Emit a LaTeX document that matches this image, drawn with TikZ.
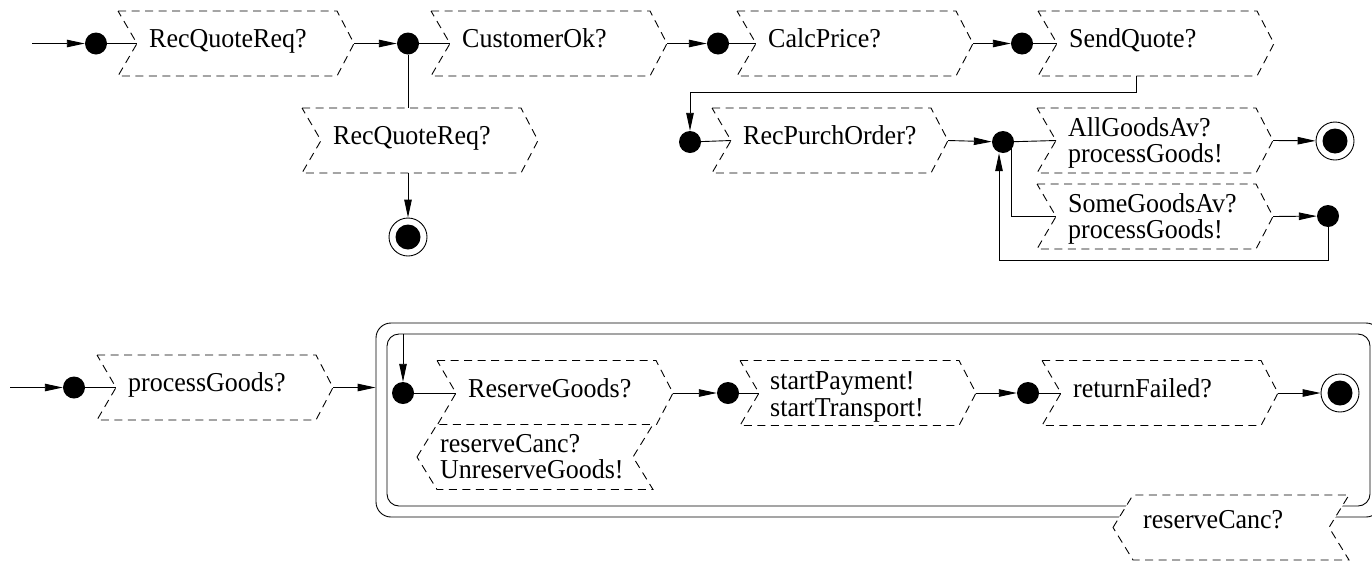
\documentclass[tikz,border=0pt]{standalone}
\usepackage{fontspec}
\usepackage{graphicx}
\setmainfont{Liberation Serif}
\usetikzlibrary{arrows.meta}

% labels are set a little taller than wide
\newcommand\tx[1]{\scalebox{1}[1.05]{#1}}

% forward transition box: notch on the left, point on the right
\newcommand\fwdbox[4]{% name, left x, centre y, text
  \draw[chev] (#2,#3-32.5) -- ++(219,0) -- ++(17,32.5) -- ++(-17,32.5)
    -- ++(-219,0) -- ++(19,-32.5) -- cycle;
  \coordinate (#1-in) at (#2+19,#3);
  \coordinate (#1-out) at (#2+236,#3);
  \node[lbl] (#1) at (#2+31,#3+4) {\tx{#4}};
}
\newcommand\fwdboxii[6]{% name, left x, centre y, line gap, first line, second line
  \draw[chev] (#2,#3-32.5) -- ++(219,0) -- ++(17,32.5) -- ++(-17,32.5)
    -- ++(-219,0) -- ++(19,-32.5) -- cycle;
  \coordinate (#1-in) at (#2+19,#3);
  \coordinate (#1-out) at (#2+236,#3);
  \node[lbl] (#1) at (#2+31,#3-4) {\tx{#5}};
  \node[lbl] (#1-b) at (#2+31,#3-4+#4) {\tx{#6}};
}
% backward transition box: point on the left, notch on the right
\newcommand\revshape[2]{% left x, centre y
  \draw[chev, fill=white] (#1,#2) -- ++(20,-32.5) -- ++(216,0) -- ++(-20,32.5)
    -- ++(20,32.5) -- ++(-216,0) -- cycle;
}

\begin{document}
\begin{tikzpicture}[x=1pt, y=-1pt,
  conn/.style={line width=0.9pt},
  arr/.style={conn, -{Triangle[length=18pt,width=7.5pt]}},
  chev/.style={line width=0.9pt, dash pattern=on 8pt off 5.5pt},
  lbl/.style={font=\fontsize{26}{26}\selectfont, inner sep=0pt, anchor=base west},
  dotst/.style={circle, fill, inner sep=0pt, minimum size=22pt},
  finst/.style={circle, draw, line width=0.9pt, fill=white, inner sep=0pt, minimum size=38pt,
    path picture={\fill[black] (path picture bounding box.center) circle (12.5pt);}},
  boxst/.style={draw, line width=0.9pt, inner sep=0pt, anchor=center},
]
\useasboundingbox (0,0) rectangle (1372,563);

% ---------- quote handling ----------
\coordinate (s1) at (32,43.5);
\node[dotst] (d1) at (96,43.5) {};
\fwdbox{rq}{118}{43.5}{RecQuoteReq?}
\node[dotst] (d2) at (408,43.5) {};
\fwdbox{co}{431}{43.5}{CustomerOk?}
\node[dotst] (d3) at (718,43.5) {};
\fwdbox{cp}{737}{43.5}{CalcPrice?}
\node[dotst] (d4) at (1022,43.5) {};
\fwdbox{sq}{1038}{43.5}{SendQuote?}

\draw[arr] (s1) -- (d1);
\draw[conn] (d1) -- (rq-in);
\draw[arr] (rq-out) -- (d2);
\draw[conn] (d2) -- (co-in);
\draw[arr] (co-out) -- (d3);
\draw[conn] (d3) -- (cp-in);
\draw[arr] (cp-out) -- (d4);
\draw[conn] (d4) -- (sq-in);

% rejected customer
\fwdbox{rr}{302}{140.5}{RecQuoteReq?}
\coordinate (rr-top) at (408,108);
\coordinate (rr-bot) at (408,173);
\node[finst] (f1) at (408,237) {};
\draw[conn] (d2) -- (rr-top);
\draw[arr] (rr-bot) -- (f1);

% ---------- purchase order ----------
\coordinate (sq-bot) at (1136,76);
\node[dotst] (d5) at (690,142) {};
\fwdbox{po}{712}{140.5}{RecPurchOrder?}
\node[dotst] (d6) at (1003,142) {};
\fwdboxii{ag}{1037}{140.5}{26}{AllGoodsAv?}{processGoods!}
\node[finst] (f2) at (1335,141) {};
\fwdboxii{sg}{1037}{216.5}{26}{SomeGoodsAv?}{processGoods!}
\node[dotst] (d7) at (1328,216) {};

\draw[arr] (sq-bot) -- ++(0,16) -| (d5);
\draw[conn] (d5) -- (po-in);
\draw[arr] (po-out) -- (d6);
\draw[conn] (d6) -- (ag-in);
\draw[arr] (ag-out) -- (f2);
\draw[conn] ([xshift=8pt]d6.center) |- (sg-in);
\draw[arr] (sg-out) -- (d7);
\draw[arr] (d7.south) -- ++(0,33) -| ([xshift=-4pt]d6.south);

% ---------- goods processing ----------
\coordinate (s3) at (10,387.5);
\node[dotst] (d8) at (74,387.5) {};
\fwdbox{pg}{97}{387.5}{processGoods?}
\draw[arr] (s3) -- (d8);
\draw[conn] (d8) -- (pg-in);

\node[boxst, rounded corners=15pt, minimum width=1005pt, minimum height=194pt] (outer) at (878.5,420) {};
\node[boxst, rounded corners=12pt, minimum width=983pt, minimum height=172pt] (inner) at (878.5,420) {};
\draw[arr] (pg-out) -- (pg-out -| outer.west);

\coordinate (ci) at (403,334);
\node[dotst] (d9) at (403,393) {};
\fwdbox{rg}{437}{393}{ReserveGoods?}
\node[dotst] (d10) at (728,393) {};
\draw[chev] (740,360.5) -- ++(219,0) -- ++(17,32.5) -- ++(-17,32.5) -- ++(-219,0) -- ++(19,-32.5) -- cycle;
\coordinate (sp-in) at (759,393);
\coordinate (sp-out) at (976,393);
\node[lbl] (sp) at (770,389) {\tx{startPayment!}};
\node[lbl] (sp-b) at (770,416) {\tx{startTransport!}};
\node[dotst] (d11) at (1028,393) {};
\fwdbox{rf}{1042}{393}{returnFailed?}
\node[finst] (f3) at (1340,393) {};

\draw[arr] (ci) -- (d9);
\draw[conn] (d9) -- (rg-in);
\draw[arr] (rg-out) -- (d10);
\draw[conn] (d10) -- (sp-in);
\draw[arr] (sp-out) -- (d11);
\draw[conn] (d11) -- (rf-in);
\draw[arr] (rf-out) -- (f3);

% cancellation inside the reservation
\revshape{417}{457}
\node[lbl] (uc) at (440,452) {\tx{reserveCanc?}};
\node[lbl] (uc-b) at (440,478) {\tx{UnreserveGoods!}};

% cancellation leaving the composite state
\revshape{1113}{527.5}
\node[lbl] (xc) at (1143,528) {\tx{reserveCanc?}};
\end{tikzpicture}
\end{document}
